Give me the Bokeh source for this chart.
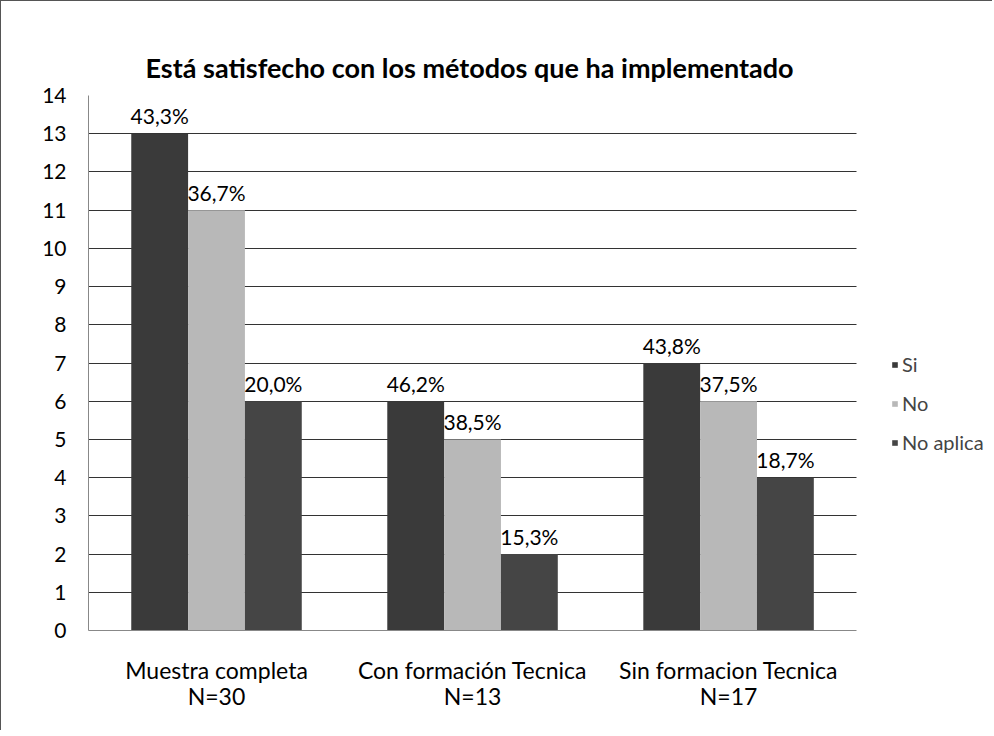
from bokeh.plotting import figure
from bokeh.models import Range1d, Legend, LegendItem, ColumnDataSource, SingleIntervalTicker, FixedTicker
from bokeh.core.properties import value
from bokeh.transform import dodge
from bokeh.embed import file_html
from bokeh.resources import INLINE

categories = ["Muestra completa\nN=30", "Con formación Tecnica\nN=13", "Sin formacion Tecnica\nN=17"]
series = ["Si", "No", "No aplica"]
si = [13, 6, 7]
no = [11, 5, 6]
no_aplica = [6, 2, 4]
si_pct = ["43,3%", "46,2%", "43,8%"]
no_pct = ["36,7%", "38,5%", "37,5%"]
na_pct = ["20,0%", "15,3%", "18,7%"]
colors = ["#3a3a3a", "#b8b8b8", "#454545"]

FONT = "Lato"

# numeric positions of the category centres (0.5, 1.5, 2.5)
centers = [i + 0.5 for i in range(len(categories))]
w = 0.222
offs = [-w, 0, w]

src = ColumnDataSource(dict(x=centers, si=si, no=no, na=no_aplica,
                            si_pct=si_pct, no_pct=no_pct, na_pct=na_pct))

p = figure(x_range=Range1d(0, 3.527), y_range=Range1d(0, 14),
           width=992, height=730, output_backend="svg", toolbar_location=None,
           title="Está satisfecho con los métodos que ha implementado",
           min_border_left=87, min_border_right=2, min_border_top=94, min_border_bottom=101)
p.styles = {"border-left": "1px solid #555", "border-top": "1px solid #555"}

p.title.align = "left"
p.title.offset = 57
p.title.text_font = FONT
p.title.text_font_size = "27px"
p.title.text_font_style = "bold"
p.title.text_color = "black"
p.title.standoff = 24

cols = ["si", "no", "na"]
pcts = ["si_pct", "no_pct", "na_pct"]
renderers = []
for off, c, col, pc in zip(offs, cols, colors, pcts):
    r = p.vbar(x=dodge("x", off), top=c, width=w, source=src,
               fill_color=col, line_color=None)
    renderers.append(r)
    p.text(x=dodge("x", off), y=c, text=pc, source=src,
           text_align="center", text_baseline="alphabetic", y_offset=-18,
           text_font=value(FONT), text_font_size="21px", text_color="black")

legend = Legend(items=[LegendItem(label=s, renderers=[r]) for s, r in zip(series, renderers)],
                location=(803, 176), orientation="vertical",
                glyph_width=7, glyph_height=7, label_height=20, spacing=15, padding=0, margin=0,
                label_text_font=FONT, label_text_font_size="20px", label_standoff=4,
                border_line_color=None, background_fill_alpha=0)
p.add_layout(legend, "center")

p.yaxis.ticker = SingleIntervalTicker(interval=1)
p.ygrid.ticker = SingleIntervalTicker(interval=1)
p.ygrid.cross_bounds = (0, len(categories))
p.ygrid.grid_line_color = "#333333"
p.ygrid.grid_line_width = 1
p.xgrid.grid_line_color = None
p.outline_line_color = None

p.xaxis.ticker = FixedTicker(ticks=centers)
p.xaxis.major_label_overrides = {c: lab for c, lab in zip(centers, categories)}
p.xaxis.bounds = (0, len(categories))

for ax in [p.xaxis, p.yaxis]:
    ax.major_label_text_font = FONT
    ax.major_label_text_font_size = "21px"
    ax.major_label_text_color = "black"
    ax.major_tick_line_color = None
    ax.minor_tick_line_color = None
p.xaxis.major_label_text_font_size = "23px"
p.xaxis.major_label_text_line_height = 0.95
p.yaxis.axis_line_color = "#888888"
p.xaxis.axis_line_color = "#888888"
p.yaxis.major_label_standoff = 16
p.xaxis.major_label_standoff = 19

open("out.html", "w").write(file_html(p, INLINE))
